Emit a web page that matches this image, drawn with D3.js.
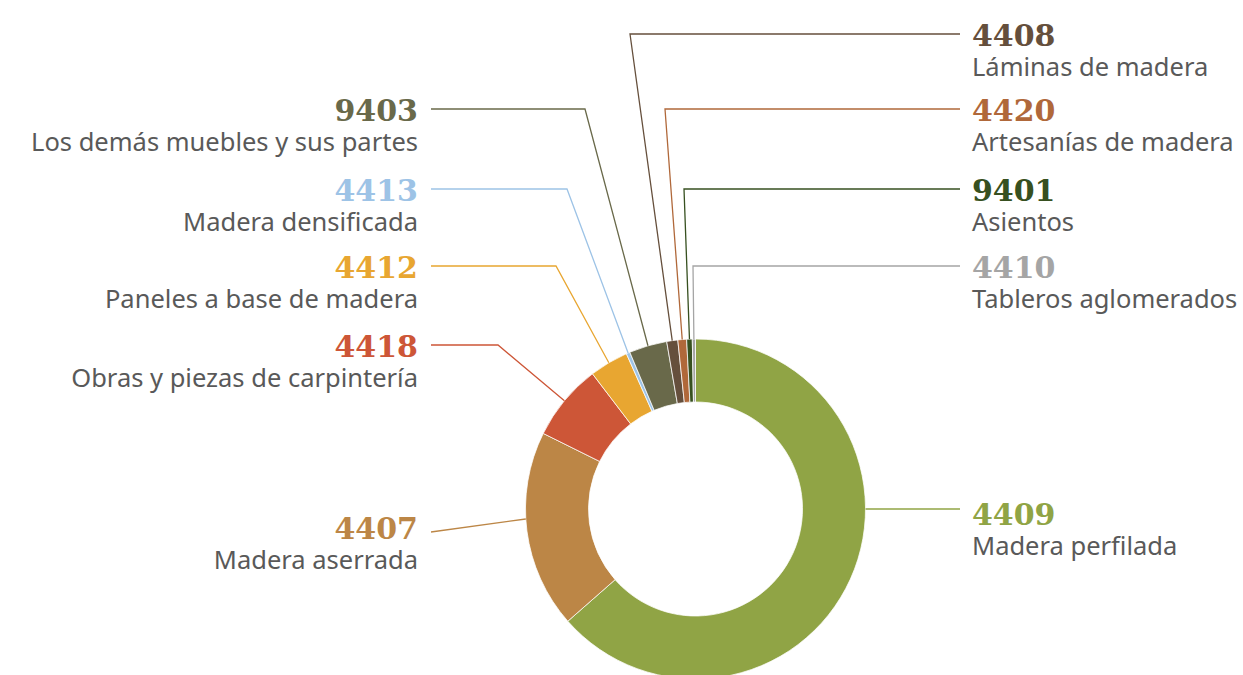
<!DOCTYPE html>
<html><head><meta charset="utf-8">
<script src="https://cdn.jsdelivr.net/npm/d3@7"></script>
<style>
html,body{margin:0;padding:0;background:#fff;}
svg{display:block;}
</style></head>
<body>
<svg id="chart" width="1243" height="675"></svg>
<script>
const categories = ["4409","4407","4418","4412","4413","9403","4408","4420","9401","4410"];
const names = ["Madera perfilada","Madera aserrada","Obras y piezas de carpintería","Paneles a base de madera","Madera densificada","Los demás muebles y sus partes","Láminas de madera","Artesanías de madera","Asientos","Tableros aglomerados"];
const values = [63.5, 18.8, 7.3, 3.7, 0.35, 3.6, 1.05, 0.83, 0.53, 0.3];
const colors = ["#90a445","#bc8646","#cd5637","#e8a631","#9dc3e6","#69694a","#654f3c","#b0683a","#375020","#a5a5a5"];

// label layout (side, row y, bend x of leader, optional anchor y on the ring)
const layout = {
  "4409": {side:"right", y:513, leaderY:509},
  "4407": {side:"left",  y:527, leaderY:532, anchorY:519},
  "4418": {side:"left",  y:345, bend:498},
  "4412": {side:"left",  y:266, bend:556},
  "4413": {side:"left",  y:189, bend:567},
  "9403": {side:"left",  y:109, bend:585},
  "4408": {side:"right", y:34,  bend:630},
  "4420": {side:"right", y:109, bend:665},
  "9401": {side:"right", y:189, bend:684},
  "4410": {side:"right", y:266, bend:693}
};

const W = 1243, H = 675;
const cx = 695.5, cy = 509, R = 170, r = 107;
const leftTextX = 418, rightTextX = 972;

const svg = d3.select("#chart");
const data = categories.map((c,i)=>({cat:c, name:names[i], value:values[i], color:colors[i]}));

const pie = d3.pie().sort(null).value(d=>d.value);
const arcs = pie(data);
const arc = d3.arc().innerRadius(r).outerRadius(R);

const g = svg.append("g").attr("transform",`translate(${cx},${cy})`);
g.selectAll("path").data(arcs).join("path")
  .attr("d",arc)
  .attr("fill",d=>d.data.color)
  .attr("stroke","#fff").attr("stroke-width",0.75);

function ringPoint(a){ return [cx + R*Math.sin(a), cy - R*Math.cos(a)]; }

arcs.forEach(a=>{
  const L = layout[a.data.cat];
  const left = L.side==="left";
  const sx = left ? leftTextX + 13 : rightTextX - 12;
  const ly = L.leaderY !== undefined ? L.leaderY : L.y;
  let pts;
  if (L.anchorY !== undefined) {
    const dy = L.anchorY - cy;
    const ax = cx + (left?-1:1)*Math.sqrt(R*R-dy*dy);
    pts = [[sx,ly],[ax,L.anchorY]];
  } else if (L.bend === undefined) {
    const dy = ly - cy;
    const ax = cx + (left?-1:1)*Math.sqrt(R*R-dy*dy);
    pts = [[sx,ly],[ax,ly]];
  } else {
    const mid = (a.startAngle + a.endAngle)/2;
    pts = [[sx,ly],[L.bend,ly],ringPoint(mid)];
  }
  svg.append("path")
    .attr("d", d3.line()(pts))
    .attr("fill","none")
    .attr("stroke",a.data.color)
    .attr("stroke-width",1.3);

  const tx = left ? leftTextX : rightTextX;
  const anchor = left ? "end" : "start";
  svg.append("text")
    .attr("x",tx).attr("y",L.y+11.5)
    .attr("text-anchor",anchor)
    .attr("font-family","'DejaVu Serif', serif")
    .attr("font-weight","bold")
    .attr("font-size",30)
    .attr("fill",a.data.color)
    .text(a.data.cat);
  svg.append("text")
    .attr("x",tx).attr("y",L.y+42)
    .attr("text-anchor",anchor)
    .attr("font-family","'Noto Sans', sans-serif")
    .attr("font-size",25.5)
    .attr("fill","#595959")
    .text(a.data.name);
});
</script>
</body></html>
